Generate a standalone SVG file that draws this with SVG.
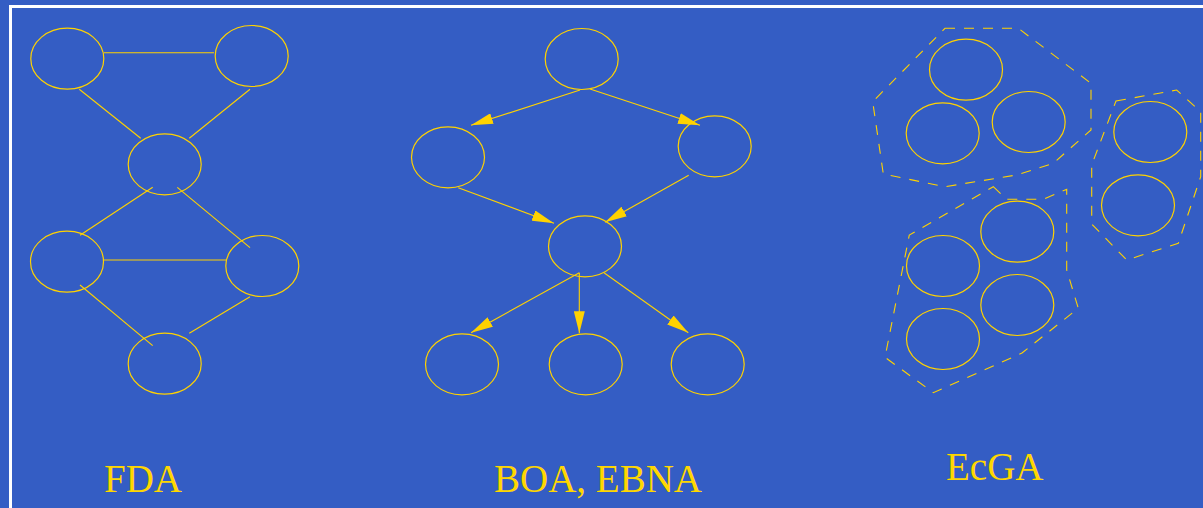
<svg xmlns="http://www.w3.org/2000/svg" width="1203" height="508" viewBox="0 0 1203 508">
  <style>
    .node { fill: none; stroke: #FFD200; stroke-width: 1.2; }
    .edge { fill: none; stroke: #FFD200; stroke-width: 1.1; }
    .arrow { fill: none; stroke: #FFD200; stroke-width: 1.1; marker-end: url(#head); }
    .hull { fill: none; stroke: #FFD200; stroke-width: 1.1; stroke-dasharray: 10 9; }
    .label { font-family: "Liberation Serif", "Times New Roman", serif; font-size: 39px; fill: #FFD700; }
  </style>
  <defs>
    <marker id="head" markerUnits="userSpaceOnUse" markerWidth="22" markerHeight="11" refX="22" refY="5.5" orient="auto">
      <path d="M0,0 L22,5.5 L0,11 Z" fill="#FFD200"/>
    </marker>
  </defs>

  <!-- background and frame -->
  <rect x="0" y="0" width="1203" height="508" fill="#345DC4"/>
  <rect x="10.5" y="6.5" width="1210" height="520" fill="none" stroke="#FFFFFF" stroke-width="3"/>

  <!-- FDA: undirected factor graph -->
  <g id="connectors-fda">
    <line class="edge" x1="104" y1="52.7" x2="214" y2="52.7"/>
    <line class="edge" x1="79.3" y1="89.3" x2="140.7" y2="138.3"/>
    <line class="edge" x1="250" y1="89.3" x2="189.3" y2="138.3"/>
    <line class="edge" x1="152.7" y1="187.3" x2="80" y2="235.3"/>
    <line class="edge" x1="177.3" y1="187.3" x2="250" y2="247.7"/>
    <line class="edge" x1="104" y1="260" x2="226.7" y2="260"/>
    <line class="edge" x1="80" y1="285" x2="152.7" y2="345.7"/>
    <line class="edge" x1="250" y1="296.7" x2="189.3" y2="333.3"/>
  </g>
  <g id="fda-a"><ellipse class="node" cx="67.3" cy="58.7" rx="36.5" ry="30.5"/></g>
  <g id="fda-b"><ellipse class="node" cx="251.7" cy="56" rx="36.5" ry="30.5"/></g>
  <g id="fda-c"><ellipse class="node" cx="164.7" cy="164.3" rx="36.5" ry="30.5"/></g>
  <g id="fda-d"><ellipse class="node" cx="67" cy="261.7" rx="36.5" ry="30.5"/></g>
  <g id="fda-e"><ellipse class="node" cx="262.3" cy="266" rx="36.5" ry="30.5"/></g>
  <g id="fda-f"><ellipse class="node" cx="164.7" cy="363.7" rx="36.5" ry="30.5"/></g>

  <!-- BOA / EBNA: directed Bayesian network -->
  <g id="connectors-boa">
    <line class="arrow" x1="580" y1="90" x2="471" y2="125.3"/>
    <line class="arrow" x1="590" y1="89" x2="700" y2="125.3"/>
    <line class="arrow" x1="458.3" y1="187.7" x2="554" y2="223.3"/>
    <line class="arrow" x1="688.7" y1="175.3" x2="605" y2="222.3"/>
    <line class="arrow" x1="579.3" y1="272.7" x2="471" y2="332.7"/>
    <line class="arrow" x1="579.3" y1="272.7" x2="579.3" y2="333.3"/>
    <line class="arrow" x1="604" y1="272.7" x2="688.3" y2="332.7"/>
  </g>
  <g id="boa-top"><ellipse class="node" cx="581.7" cy="59" rx="36.5" ry="30.5"/></g>
  <g id="boa-left"><ellipse class="node" cx="448" cy="157.3" rx="36.5" ry="30.5"/></g>
  <g id="boa-right"><ellipse class="node" cx="714.7" cy="146.3" rx="36.5" ry="30.5"/></g>
  <g id="boa-mid"><ellipse class="node" cx="585" cy="246.3" rx="36.5" ry="30.5"/></g>
  <g id="boa-bl"><ellipse class="node" cx="462" cy="364.3" rx="36.5" ry="30.5"/></g>
  <g id="boa-bm"><ellipse class="node" cx="585.7" cy="364.3" rx="36.5" ry="30.5"/></g>
  <g id="boa-br"><ellipse class="node" cx="707.7" cy="364.3" rx="36.5" ry="30.5"/></g>

  <!-- EcGA: marginal product model, variables grouped into linkage sets -->
  <g id="ecga-group-1">
    <polygon class="hull" points="945,28.3 1018.3,28.3 1091,83.3 1091,130 1053.3,163.3 1016.7,175 945,186.7 883.3,174 872.7,101.7"/>
    <ellipse class="node" cx="966" cy="69.7" rx="36.5" ry="30.5"/>
    <ellipse class="node" cx="942.7" cy="133.3" rx="36.5" ry="30.5"/>
    <ellipse class="node" cx="1028.7" cy="122" rx="36.5" ry="30.5"/>
  </g>
  <g id="ecga-group-2">
    <polygon class="hull" points="1116,101 1176.7,90 1200.7,111.7 1200.7,176.7 1178.3,243.3 1126.7,260 1091.7,224 1091.7,165"/>
    <ellipse class="node" cx="1150.3" cy="132" rx="36.5" ry="30.5"/>
    <ellipse class="node" cx="1138" cy="205.3" rx="36.5" ry="30.5"/>
  </g>
  <g id="ecga-group-3">
    <polygon class="hull" points="993.3,186.7 1006.7,199.3 1043.3,199.3 1066.7,189.3 1066.7,270 1078.3,308.3 1022,353 933.3,392.7 885,357.3 909.3,235"/>
    <ellipse class="node" cx="1017.3" cy="231.7" rx="36.5" ry="30.5"/>
    <ellipse class="node" cx="943" cy="266" rx="36.5" ry="30.5"/>
    <ellipse class="node" cx="1017.3" cy="305" rx="36.5" ry="30.5"/>
    <ellipse class="node" cx="943" cy="339" rx="36.5" ry="30.5"/>
  </g>

  <!-- captions -->
  <text class="label" x="104" y="492">FDA</text>
  <text class="label" x="494" y="492">BOA, EBNA</text>
  <text class="label" x="946" y="480">EcGA</text>
</svg>
